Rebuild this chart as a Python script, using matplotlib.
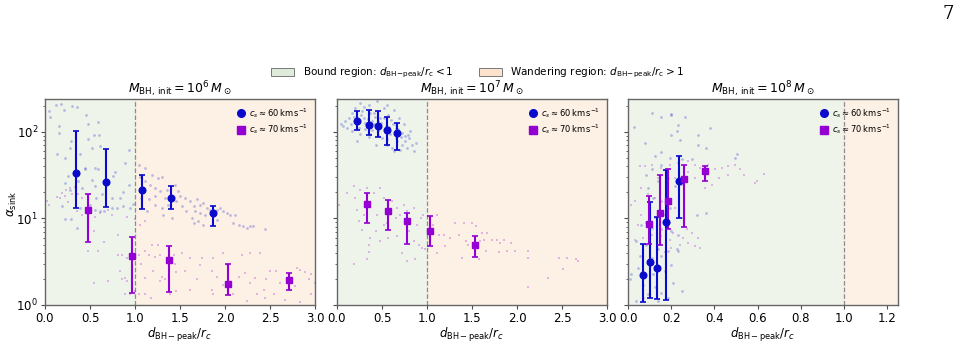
import matplotlib
matplotlib.use("Agg")
import matplotlib.pyplot as plt
from matplotlib.patches import Patch
from matplotlib.lines import Line2D
import numpy as np

# ---------------- data ----------------
titles = [r"$M_{\rm BH,\,init} = 10^6\,M_\odot$",
          r"$M_{\rm BH,\,init} = 10^7\,M_\odot$",
          r"$M_{\rm BH,\,init} = 10^8\,M_\odot$"]
xlims = [3.0, 3.0, 1.25]
xticks_list = [[0.0, 0.5, 1.0, 1.5, 2.0, 2.5, 3.0],
               [0.0, 0.5, 1.0, 1.5, 2.0, 2.5, 3.0],
               [0.0, 0.2, 0.4, 0.6, 0.8, 1.0, 1.2]]
label60 = r"$c_s \approx 60\,{\rm km\,s^{-1}}$"
label70 = r"$c_s \approx 70\,{\rm km\,s^{-1}}$"

# binned means with error ranges (x, y, y_low, y_high)
p1_blue_x = [0.344, 0.678, 1.074, 1.40, 1.863]
p1_blue_y = [33.6, 26.6, 21.5, 17.3, 11.6]
p1_blue_lo = [13.2, 13.5, 12.9, 12.9, 8.1]
p1_blue_hi = [102, 64, 31.6, 23.6, 14.1]
p1_purp_x = [0.474, 0.97, 1.378, 2.03, 2.71]
p1_purp_y = [12.6, 3.7, 3.3, 1.75, 1.93]
p1_purp_lo = [5.35, 1.36, 1.41, 1.32, 1.48]
p1_purp_hi = [19.2, 6.1, 4.8, 3.0, 2.36]

p2_blue_x = [0.22, 0.36, 0.456, 0.55, 0.67]
p2_blue_y = [133, 120, 116, 105, 98]
p2_blue_lo = [106, 93, 87, 71, 61]
p2_blue_hi = [176, 181, 174, 148, 127]
p2_purp_x = [0.33, 0.57, 0.78, 1.03, 1.53]
p2_purp_y = [14.5, 12.1, 9.3, 7.1, 4.9]
p2_purp_lo = [8.9, 7.4, 5.1, 4.8, 3.6]
p2_purp_hi = [19.7, 16.2, 11.6, 10.6, 6.3]

p3_blue_x = [0.071, 0.102, 0.132, 0.175, 0.236]
p3_blue_y = [2.2, 3.1, 2.65, 9.0, 27]
p3_blue_lo = [1.08, 1.2, 1.16, 1.13, 10.1]
p3_blue_hi = [5.1, 15.4, 10.4, 36, 53]
p3_purp_x = [0.096, 0.146, 0.186, 0.258, 0.355]
p3_purp_y = [8.6, 11.6, 15.8, 28.6, 35]
p3_purp_lo = [5.1, 5.0, 7.6, 8.0, 27]
p3_purp_hi = [18.4, 32, 37, 41, 40]

# individual samples (scatter clouds)
p1_blue_sx = [0.04, 0.12, 0.21, 0.35, 0.46, 0.59, 0.48, 0.16, 0.15, 0.29, 0.28, 0.48, 0.54, 0.60, 0.52, 0.61,
              0.39, 0.44, 0.56, 0.59, 0.44, 0.22, 0.13, 0.26, 0.22, 0.37, 0.52, 0.41, 0.28, 0.56, 0.57, 0.63,
              0.74, 0.83, 0.87, 0.93, 0.78, 0.76, 0.89, 0.93, 0.19, 0.22, 0.29, 0.35, 0.39, 0.50, 0.56, 0.61,
              0.66, 0.74, 0.80, 0.87, 0.98, 0.94, 0.18, 0.30, 0.05,
              1.04, 1.11, 1.19, 1.26, 1.30, 1.11, 1.17, 1.22, 1.28, 1.35, 1.44, 1.48, 1.07, 1.15, 1.22, 1.30,
              1.37, 1.46, 1.13, 1.31, 1.41, 1.06, 1.09, 1.22, 1.33, 1.41,
              1.50, 1.56, 1.52, 1.61, 1.65, 1.69, 1.72, 1.76, 1.80, 1.67, 1.72, 1.78, 1.83, 1.91, 1.94, 1.98,
              2.06, 2.11, 1.65, 1.70, 1.76, 1.91, 2.09, 2.15, 2.20, 2.24, 2.28, 2.31, 2.44, 1.57, 1.63, 1.87, 2.02]
p1_blue_sy = [173, 207, 180, 195, 155, 130, 122, 117, 98, 78, 65, 82, 93, 91, 65, 68,
              55, 38, 38, 37, 37, 50, 55, 31, 26, 27, 28, 22.5, 21.5, 23.5, 17.3, 19,
              17.3, 17.3, 20, 24.6, 34, 31, 44, 61, 13.8, 9.8, 9.8, 7.8, 13.3, 14.4, 12.6, 12.1,
              12.1, 13.3, 13.3, 13.8, 14.6, 13.3, 210, 200, 150,
              42, 38, 32, 29, 30, 27, 24.6, 22.5, 20.6, 21.5, 24.6, 20.6, 17.3, 16.6, 14.4, 13.3,
              14.4, 15.8, 12.1, 11.1, 10.1, 30, 21.5, 18, 17.3, 18,
              18, 17.3, 13.8, 15.8, 13.8, 16.6, 14.4, 15, 13.3, 12.1, 11.6, 11.1, 12.6, 12.6, 13.3, 12.1,
              11.1, 10.9, 8.9, 9.3, 8.5, 9.6, 8.9, 8.5, 8.2, 7.8, 8.2, 8.2, 7.6, 12.1, 10.1, 11.1, 11.6]

p1_purp_sx = [0.04, 0.13, 0.19, 0.23, 0.28, 0.30, 0.22, 0.17, 0.37, 0.41, 0.35, 0.41, 0.56, 0.61, 0.70, 0.74,
              0.91, 1.00, 0.54, 0.65, 0.48, 0.59, 0.81, 0.81, 0.85, 0.91, 0.83, 0.89, 0.91, 0.85, 0.89, 0.94,
              0.54, 0.70, 1.00, 1.04, 1.11, 1.18, 1.06, 1.11, 1.19, 1.26, 1.15, 1.22, 1.28, 1.11, 1.04, 1.20,
              1.30, 1.33, 1.28, 1.43, 1.44, 1.46, 1.11, 1.07, 1.39, 1.46, 0.02, 0.26, 0.33,
              1.52, 1.61, 1.74, 1.98, 2.19, 2.28, 2.39, 1.87, 1.56, 1.69, 1.85, 1.91, 2.15, 2.22, 2.33, 2.50,
              2.57, 2.80, 2.83, 2.89, 2.96, 2.93, 2.46, 2.61, 2.78, 1.61, 1.85, 1.87, 1.98, 2.09, 2.24, 2.35,
              2.43, 2.54, 2.67, 2.83, 2.96, 3.00, 1.72, 2.02, 2.28, 2.69, 2.44]
p1_purp_sy = [14.4, 17.5, 19.8, 21.5, 22.5, 19, 18, 17.3, 19, 17.3, 12.1, 11.1, 10.5, 11.6, 12.6, 11.1,
              10.5, 9.8, 7.1, 5.4, 4.2, 4.2, 6.5, 3.8, 3.8, 3.5, 2.45, 2.05, 1.9, 2.0, 1.33, 1.33,
              1.8, 1.9, 1.44, 1.33, 1.35, 1.22, 8.5, 9.3, 5.0, 5.0, 3.8, 3.6, 3.8, 4.2, 3.8, 2.45,
              2.1, 2.0, 1.9, 3.8, 3.0, 2.4, 2.05, 3.0, 1.33, 1.44, 16, 15.5, 23,
              4.0, 3.5, 3.5, 4.0, 3.8, 4.0, 4.0, 3.5, 2.45, 2.0, 2.45, 2.1, 2.1, 2.35, 2.05, 2.5,
              2.45, 2.7, 2.55, 2.4, 2.3, 2.0, 2.0, 1.8, 1.65, 1.5, 1.5, 1.33, 1.72, 1.33, 1.1, 1.33,
              1.5, 1.33, 1.15, 1.08, 1.33, 1.8, 2.9, 2.9, 1.8, 1.8, 1.2]

p2_blue_sx = [0.07, 0.13, 0.17, 0.15, 0.20, 0.26, 0.28, 0.30, 0.31, 0.35, 0.37, 0.39, 0.41, 0.44, 0.46, 0.48,
              0.50, 0.52, 0.54, 0.56, 0.57, 0.59, 0.61, 0.63, 0.65, 0.67, 0.69, 0.70, 0.72, 0.74, 0.76, 0.78,
              0.80, 0.81, 0.83, 0.85, 0.24, 0.33, 0.43, 0.22, 0.56, 0.30, 0.17, 0.41, 0.52, 0.65, 0.46, 0.37,
              0.22, 0.72, 0.63, 0.11, 0.04, 0.09, 0.27, 0.34, 0.42, 0.49, 0.58, 0.66, 0.75, 0.88, 0.53, 0.39,
              0.31, 0.45, 0.60, 0.68, 0.19, 0.25, 0.36, 0.47, 0.55, 0.62, 0.71, 0.79]
p2_blue_sy = [118, 145, 165, 122, 190, 215, 173, 145, 108, 207, 95, 133, 165, 225, 102, 145,
              85, 190, 118, 71, 158, 95, 65, 180, 112, 78, 145, 62, 98, 122, 78, 65,
              85, 102, 71, 60, 112, 118, 71, 78, 207, 195, 102, 122, 145, 85, 133, 165,
              133, 71, 60, 112, 125, 135, 155, 140, 150, 128, 115, 120, 90, 75, 100, 105,
              128, 92, 138, 108, 150, 95, 88, 112, 82, 125, 88, 92]

p2_purp_sx = [0.02, 0.11, 0.19, 0.20, 0.26, 0.33, 0.41, 0.48, 0.52, 0.22, 0.24, 0.28, 0.37, 0.35, 0.35, 0.33,
              0.19, 0.43, 0.48, 0.44, 0.61, 0.67, 0.65, 0.70, 0.74, 0.78, 0.80, 0.67, 0.57, 0.72, 0.78, 0.87,
              0.85, 0.91, 0.93, 0.89, 0.96, 0.94, 0.98, 1.07, 1.11, 1.13, 1.19, 1.20, 1.26, 1.31, 1.35, 1.41,
              1.43, 1.39, 1.46, 1.11, 0.56, 0.37, 0.30, 0.85, 0.52,
              1.50, 1.54, 1.61, 1.67, 1.59, 1.63, 1.72, 1.78, 1.81, 1.85, 1.93, 1.65, 1.80, 1.89, 1.98, 2.12,
              2.12, 1.58, 2.47, 2.55, 2.65, 2.68, 2.51, 2.34, 2.12]
p2_purp_sy = [14.4, 19.5, 24, 17.3, 21.5, 22.5, 19.5, 22.5, 17.3, 12.6, 9.3, 7.3, 5.95, 5.0, 4.1, 3.4,
              3.0, 7.1, 5.5, 11.1, 15.8, 13.3, 10.1, 11.1, 14.4, 12.1, 7.1, 6.2, 5.95, 4.0, 3.2, 3.4,
              5.5, 5.0, 10.1, 8.5, 11.1, 4.6, 4.4, 8.5, 11.1, 6.5, 6.5, 4.8, 5.95, 8.9, 6.5, 8.9,
              5.5, 3.5, 5.0, 4.0, 8.9, 14.4, 11.1, 13.3, 8.5,
              8.9, 8.2, 6.8, 6.8, 5.5, 5.7, 5.6, 5.7, 5.2, 5.7, 5.2, 4.2, 4.1, 4.2, 4.2, 4.2,
              3.5, 3.4, 3.5, 3.5, 3.4, 3.2, 2.6, 2.05, 1.6]

p3_blue_sx = [0.028, 0.109, 0.155, 0.197, 0.20, 0.264, 0.233, 0.229, 0.20, 0.24, 0.322, 0.38, 0.36, 0.326,
              0.078, 0.155, 0.124, 0.194, 0.248, 0.295, 0.496, 0.504, 0.155, 0.109, 0.085, 0.14, 0.186,
              0.217, 0.093, 0.116, 0.155, 0.194, 0.14, 0.318, 0.36, 0.062, 0.109, 0.155, 0.20, 0.233,
              0.039, 0.085, 0.14, 0.186, 0.225, 0.054, 0.109, 0.155, 0.20, 0.047, 0.116, 0.17, 0.21,
              0.016, 0.008, 0.07, 0.124, 0.093, 0.155, 0.186, 0.039, 0.14, 0.248, 0.07, 0.233]
p3_blue_sy = [115, 165, 148, 162, 158, 148, 120, 102, 93, 80, 91, 112, 65, 71,
              75, 58, 53, 50, 48, 48, 50, 55, 42, 37, 32, 27, 29,
              24, 22.5, 17.3, 16, 13.3, 12.1, 11.1, 11.6, 8.5, 7.8, 7.5, 7.1, 6.5,
              5.5, 5.0, 4.4, 4.2, 4.4, 3.7, 3.5, 3.7, 2.9, 2.7, 2.3, 2.45, 1.8,
              2.3, 2.0, 1.72, 1.6, 1.33, 1.38, 1.2, 1.1, 1.1, 1.44, 1.2, 4.2]

p3_purp_sx = [0.054, 0.078, 0.109, 0.155, 0.194, 0.233, 0.279, 0.31, 0.333, 0.372, 0.403, 0.434, 0.465,
              0.496, 0.52, 0.535, 0.465, 0.419, 0.388, 0.597, 0.357, 0.31, 0.279, 0.248, 0.217, 0.186,
              0.14, 0.062, 0.093, 0.124, 0.031, 0.016, 0.062, 0.047, 0.085, 0.124, 0.17, 0.217, 0.248,
              0.271, 0.295, 0.256, 0.209, 0.326, 0.279, 0.31, 0.333, 0.24, 0.194, 0.155, 0.109, 0.07,
              0.031, 0.14, 0.17, 0.20, 0.10, 0.194, 0.63, 0.59]
p3_purp_sy = [40, 40, 42, 38, 42, 44, 46, 42, 38, 42, 37, 38, 40,
              42, 37, 32, 32, 29, 24.6, 27, 22.5, 29, 34, 24.6, 29, 32,
              29, 22.5, 19, 17.3, 15.8, 14.4, 11.1, 8.5, 8.9, 10.1, 11.1, 13.3, 10.1,
              7.5, 6.8, 5.95, 6.8, 5.95, 5.2, 4.8, 4.6, 5.0, 5.7, 6.3, 6.5, 5.95,
              5.7, 5.0, 4.1, 4.6, 3.8, 8.9, 33, 26]

panels = [
    dict(bx=p1_blue_sx, by=p1_blue_sy, px=p1_purp_sx, py=p1_purp_sy,
         mbx=p1_blue_x, mby=p1_blue_y, mblo=p1_blue_lo, mbhi=p1_blue_hi,
         mpx=p1_purp_x, mpy=p1_purp_y, mplo=p1_purp_lo, mphi=p1_purp_hi),
    dict(bx=p2_blue_sx, by=p2_blue_sy, px=p2_purp_sx, py=p2_purp_sy,
         mbx=p2_blue_x, mby=p2_blue_y, mblo=p2_blue_lo, mbhi=p2_blue_hi,
         mpx=p2_purp_x, mpy=p2_purp_y, mplo=p2_purp_lo, mphi=p2_purp_hi),
    dict(bx=p3_blue_sx, by=p3_blue_sy, px=p3_purp_sx, py=p3_purp_sy,
         mbx=p3_blue_x, mby=p3_blue_y, mblo=p3_blue_lo, mbhi=p3_blue_hi,
         mpx=p3_purp_x, mpy=p3_purp_y, mplo=p3_purp_lo, mphi=p3_purp_hi),
]

# ---------------- style ----------------
BLUE = "#0a0acc"
PURP = "#9400d3"
BOUND = "#eef4ea"
WANDER = "#fdf0e4"
BOUND_LEG = "#dfeadb"
WANDER_LEG = "#fde2cd"

fig = plt.figure(figsize=(9.65, 3.47), dpi=100)
lefts = [45 / 965, 337 / 965, 628 / 965]
W = 270 / 965
B = 1 - 305 / 347
H = 206 / 347

for i, d in enumerate(panels):
    ax = fig.add_axes([lefts[i], B, W, H])
    ax.set_yscale("log")
    ax.set_xlim(0, xlims[i])
    ax.set_ylim(1, 240)
    ax.axvspan(0, 1.0, color=BOUND, zorder=0, lw=0)
    ax.axvspan(1.0, xlims[i], color=WANDER, zorder=0, lw=0)
    ax.axvline(1.0, color="0.55", ls="--", lw=0.9, zorder=1)

    ax.scatter(d["bx"], d["by"], s=4, color=BLUE, alpha=0.25, marker="o", lw=0, zorder=2)
    ax.scatter(d["px"], d["py"], s=4, color=PURP, alpha=0.25, marker="s", lw=0, zorder=2)

    mby = np.array(d["mby"]); mpy = np.array(d["mpy"])
    eb = [mby - np.array(d["mblo"]), np.array(d["mbhi"]) - mby]
    ep = [mpy - np.array(d["mplo"]), np.array(d["mphi"]) - mpy]
    ax.errorbar(d["mbx"], mby, yerr=eb, fmt="o", color=BLUE, ms=4.8, lw=1.5,
                capsize=2, capthick=1.2, zorder=4)
    ax.errorbar(d["mpx"], mpy, yerr=ep, fmt="s", color=PURP, ms=4.8, lw=1.5,
                capsize=2, capthick=1.2, zorder=4)

    ax.set_xticks(xticks_list[i])
    ax.set_xticklabels([f"{t:.1f}" for t in xticks_list[i]])
    ax.tick_params(labelsize=8.5, length=3, color="0.3", pad=2)
    ax.tick_params(which="minor", length=1.8, color="0.3")
    if i > 0:
        ax.tick_params(axis="y", which="both", labelleft=False)
    else:
        ax.set_ylabel(r"$\alpha_{\rm sink}$", fontsize=8.5)
        ax.yaxis.set_label_coords(-0.095, 0.49)
    ax.set_xlabel(r"$d_{\rm BH-peak}/r_c$", fontsize=8.5, labelpad=1)
    ax.set_title(titles[i], fontsize=9, pad=3)
    for s in ax.spines.values():
        s.set_color("0.4")
        s.set_linewidth(1.0)

    h60 = Line2D([], [], ls="none", marker="o", color=BLUE, ms=5.5)
    h70 = Line2D([], [], ls="none", marker="s", color=PURP, ms=5.5)
    ax.legend([h60, h70], [label60, label70], loc="upper right", fontsize=6, frameon=False,
              handlelength=1.2, handletextpad=0.4, borderaxespad=0.4, labelspacing=0.35)

handles = [Patch(facecolor=BOUND_LEG, edgecolor="0.4", lw=0.6),
           Patch(facecolor=WANDER_LEG, edgecolor="0.4", lw=0.6)]
labels = [r"Bound region: $d_{\rm BH\!-\!peak}/r_{\rm c} < 1$",
          r"Wandering region: $d_{\rm BH\!-\!peak}/r_{\rm c} > 1$"]
fig.legend(handles, labels, loc="center", bbox_to_anchor=(0.495, 1 - 73 / 347), ncol=2,
           frameon=False, fontsize=7.5, handlelength=2.2, handleheight=0.8, columnspacing=2.5,
           handletextpad=0.8)

fig.text(0.988, 1 - 14 / 347, "7", fontsize=13, family="DejaVu Serif", ha="right", va="center")

fig.savefig("out.png", dpi=100)
